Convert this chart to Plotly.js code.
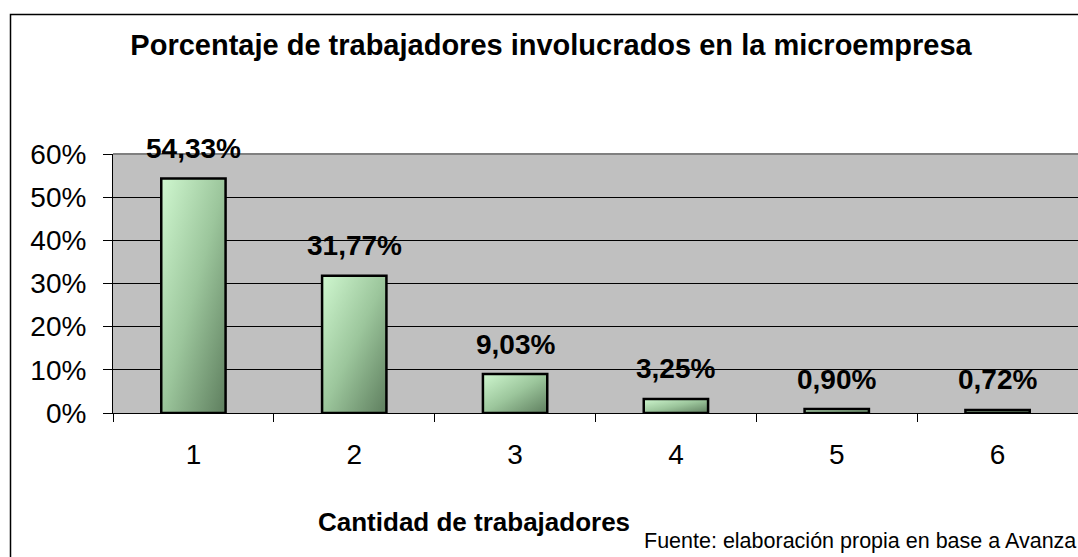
<!DOCTYPE html>
<html>
<head>
<meta charset="utf-8">
<script src="https://cdn.plot.ly/plotly-3.0.1.min.js"></script>
<style>
  html, body { margin: 0; padding: 0; background: #fff; }
  #chart { width: 1078px; height: 557px; }
</style>
</head>
<body>
<div id="chart"></div>
<script>
const categories = ['1', '2', '3', '4', '5', '6'];
const values = [54.33, 31.77, 9.03, 3.25, 0.90, 0.72];
const yTicks = [0, 10, 20, 30, 40, 50, 60];
const yTickLabels = ['0%', '10%', '20%', '30%', '40%', '50%', '60%'];
const titleText = 'Porcentaje de trabajadores involucrados en la microempresa';
const xTitleText = 'Cantidad de trabajadores';
const sourceText = 'Fuente: elaboración propia en base a Avanza';

const FONT = 'Arial, "Liberation Sans", sans-serif';
const fmt = v => v.toFixed(2).replace('.', ',') + '%';

const trace = {
  type: 'bar',
  x: categories,
  y: values,
  width: 0.40,
  marker: { color: '#a6cfa6', line: { color: '#000', width: 2.5 } },
  hoverinfo: 'skip'
};

const annotations = categories.map((c, i) => ({
  x: i, y: values[i], xref: 'x', yref: 'y',
  text: '<b>' + fmt(values[i]) + '</b>',
  showarrow: false, yanchor: 'middle', yshift: 30,
  font: { family: FONT, size: 28, color: '#000' }
}));

annotations.push({
  xref: 'paper', yref: 'paper', x: (474 - 113) / 965, y: (413 - 522) / 259,
  xanchor: 'center', yanchor: 'middle', showarrow: false,
  text: '<b>' + xTitleText + '</b>',
  font: { family: FONT, size: 26, color: '#000' }
});
annotations.push({
  xref: 'paper', yref: 'paper', x: (1078 - 113) / 965, y: (413 - 541) / 259,
  xanchor: 'right', yanchor: 'middle', showarrow: false,
  text: sourceText,
  font: { family: FONT, size: 21.5, color: '#000' }
});

const layout = {
  width: 1078, height: 557,
  margin: { l: 113, r: 0, t: 154, b: 144 },
  paper_bgcolor: '#fff',
  plot_bgcolor: '#c0c0c0',
  showlegend: false,
  title: {
    text: '<b>' + titleText + '</b>',
    x: 551 / 1078, xanchor: 'center', y: 1 - 45 / 557, yanchor: 'middle',
    font: { family: FONT, size: 29, color: '#000' }
  },
  xaxis: {
    type: 'category',
    range: [-0.5, 5.5],
    tickson: 'boundaries',
    ticks: 'outside', ticklen: 8, tickcolor: '#000', tickwidth: 1,
    showline: true, linecolor: '#000', linewidth: 1,
    showgrid: false, zeroline: false,
    tickfont: { family: FONT, size: 28, color: '#000' },
    ticklabelstandoff: 16,
    fixedrange: true
  },
  yaxis: {
    range: [0, 60],
    tickvals: yTicks, ticktext: yTickLabels,
    ticks: 'outside', ticklen: 9, tickcolor: '#000', tickwidth: 1,
    showline: true, linecolor: '#000', linewidth: 1,
    showgrid: true, gridcolor: '#000', gridwidth: 1,
    zeroline: false,
    tickfont: { family: FONT, size: 28, color: '#000' },
    ticklabelstandoff: 11,
    fixedrange: true
  },
  shapes: [
    { type: 'line', xref: 'paper', yref: 'paper', x0: 0, x1: 1, y0: 1, y1: 1,
      line: { color: '#808080', width: 2 } },
    { type: 'rect', xref: 'paper', yref: 'paper',
      x0: (10.5 - 113) / 965, x1: (1085 - 113) / 965,
      y0: (413 - 565) / 259, y1: (413 - 14.5) / 259,
      line: { color: '#000', width: 1.5 }, fillcolor: 'rgba(0,0,0,0)', layer: 'below' }
  ],
  annotations: annotations
};

Plotly.newPlot('chart', [trace], layout, { displayModeBar: false, staticPlot: true }).then(gd => {
  const svg = gd.querySelector('svg.main-svg');
  const NS = 'http://www.w3.org/2000/svg';
  let defs = svg.querySelector('defs');
  if (!defs) { defs = document.createElementNS(NS, 'defs'); svg.insertBefore(defs, svg.firstChild); }
  const g = document.createElementNS(NS, 'linearGradient');
  g.setAttribute('id', 'barGrad');
  g.setAttribute('x1', '0'); g.setAttribute('y1', '0');
  g.setAttribute('x2', '1'); g.setAttribute('y2', '1');
  [['0', '#cff7cf'], ['0.5', '#9cc69c'], ['1', '#5e7e5e']].forEach(([o, c]) => {
    const s = document.createElementNS(NS, 'stop');
    s.setAttribute('offset', o); s.setAttribute('stop-color', c);
    g.appendChild(s);
  });
  defs.appendChild(g);
  gd.querySelectorAll('.barlayer .point path').forEach(p => { p.style.fill = 'url(#barGrad)'; });
});
</script>
</body>
</html>
